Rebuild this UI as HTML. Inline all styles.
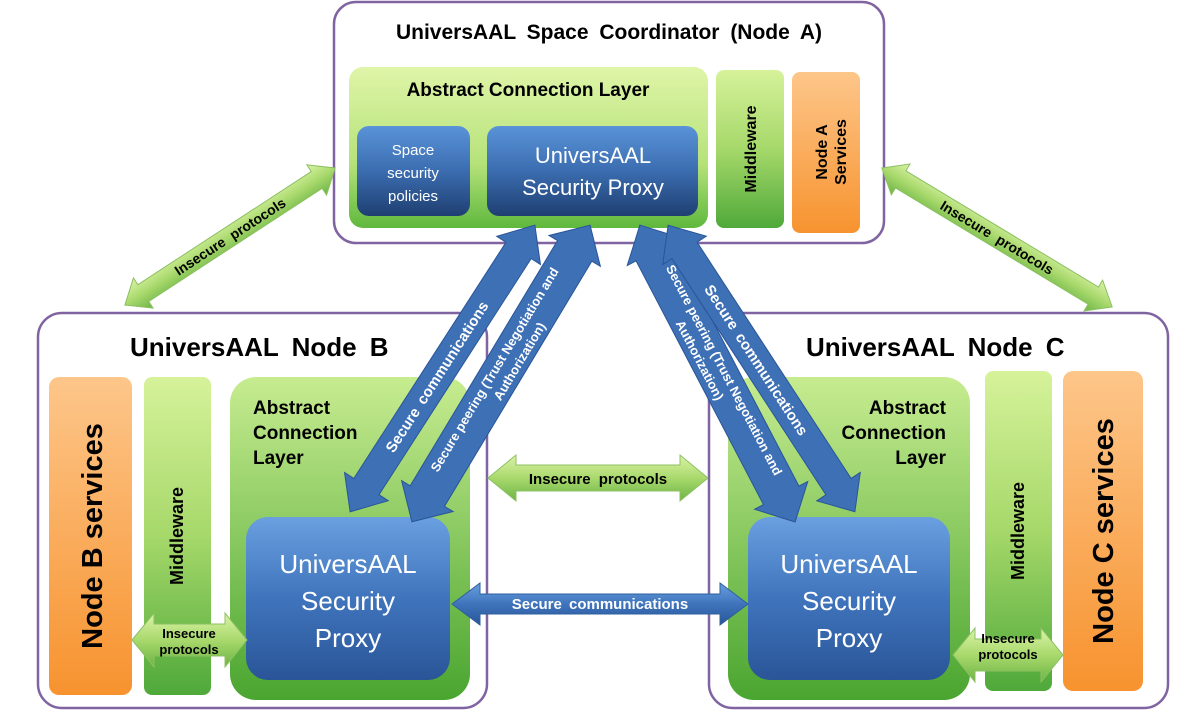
<!DOCTYPE html>
<html><head><meta charset="utf-8"><style>
html,body{margin:0;padding:0;background:#fff}
svg{display:block;font-family:"Liberation Sans",Arial,sans-serif}
.b{font-weight:bold}
</style></head><body>
<svg width="1195" height="719" viewBox="0 0 1195 719" xmlns="http://www.w3.org/2000/svg">
<defs>
<linearGradient id="gL" x1="0" y1="0" x2="0" y2="1"><stop offset="0" stop-color="#dff5a8"/><stop offset="0.6" stop-color="#b6e27a"/><stop offset="1" stop-color="#5fb83d"/></linearGradient>
<linearGradient id="gM" x1="0" y1="0" x2="0" y2="1"><stop offset="0" stop-color="#d6f29a"/><stop offset="0.5" stop-color="#a6d86a"/><stop offset="1" stop-color="#4fa93a"/></linearGradient>
<linearGradient id="gA" x1="0" y1="0" x2="0" y2="1"><stop offset="0" stop-color="#c7ec90"/><stop offset="1" stop-color="#4aa530"/></linearGradient>
<linearGradient id="gO" x1="0" y1="0" x2="0" y2="1"><stop offset="0" stop-color="#fdc68a"/><stop offset="1" stop-color="#f7932f"/></linearGradient>
<linearGradient id="gB" x1="0" y1="0" x2="0" y2="1"><stop offset="0" stop-color="#5a93d8"/><stop offset="0.5" stop-color="#3b6db0"/><stop offset="1" stop-color="#1f3f72"/></linearGradient>
<linearGradient id="gBA" x1="0" y1="0" x2="0" y2="1"><stop offset="0" stop-color="#6aa0e0"/><stop offset="0.5" stop-color="#3f74bc"/><stop offset="1" stop-color="#2a5598"/></linearGradient>
<linearGradient id="gGA" x1="0" y1="0" x2="0" y2="1"><stop offset="0" stop-color="#dbf3a6"/><stop offset="0.5" stop-color="#a9d96d"/><stop offset="1" stop-color="#6cb444"/></linearGradient>
</defs>

<!-- Frames -->
<rect x="334" y="2" width="550" height="241" rx="22" fill="#fff" stroke="#8064a2" stroke-width="2.5"/>
<rect x="38" y="313" width="449" height="395" rx="24" fill="#fff" stroke="#8064a2" stroke-width="2.5"/>
<rect x="709" y="313" width="459" height="395" rx="24" fill="#fff" stroke="#8064a2" stroke-width="2.5"/>

<!-- Node A -->
<text x="609" y="39" text-anchor="middle" class="b" font-size="21" word-spacing="5">UniversAAL Space Coordinator (Node A)</text>
<rect x="349" y="67" width="359" height="161" rx="14" fill="url(#gL)"/>
<text x="528" y="96" text-anchor="middle" class="b" font-size="19">Abstract Connection Layer</text>
<rect x="357" y="126" width="113" height="90" rx="12" fill="url(#gB)"/>
<text x="413" y="155" text-anchor="middle" fill="#fff" font-size="15">Space</text>
<text x="413" y="178" text-anchor="middle" fill="#fff" font-size="15">security</text>
<text x="413" y="201" text-anchor="middle" fill="#fff" font-size="15">policies</text>
<rect x="487" y="126" width="211" height="90" rx="12" fill="url(#gB)"/>
<text x="593" y="163" text-anchor="middle" fill="#fff" font-size="22">UniversAAL</text>
<text x="593" y="195" text-anchor="middle" fill="#fff" font-size="22">Security Proxy</text>
<rect x="716" y="70" width="68" height="158" rx="8" fill="url(#gM)"/>
<text transform="translate(751,149) rotate(-90)" text-anchor="middle" class="b" font-size="16" dy="5">Middleware</text>
<rect x="792" y="72" width="68" height="161" rx="8" fill="url(#gO)"/>
<text transform="translate(822,152) rotate(-90)" text-anchor="middle" class="b" font-size="16" dy="5">Node A</text>
<text transform="translate(841,152) rotate(-90)" text-anchor="middle" class="b" font-size="16" dy="5">Services</text>

<!-- Node B -->
<text x="130" y="356" class="b" font-size="26" word-spacing="6">UniversAAL Node B</text>
<rect x="49" y="377" width="83" height="318" rx="10" fill="url(#gO)"/>
<text transform="translate(92,536) rotate(-90)" text-anchor="middle" class="b" font-size="29" dy="10">Node B services</text>
<rect x="144" y="377" width="67" height="318" rx="8" fill="url(#gM)"/>
<text transform="translate(177,536) rotate(-90)" text-anchor="middle" class="b" font-size="18" dy="6">Middleware</text>
<rect x="230" y="377" width="240" height="323" rx="26" fill="url(#gA)"/>
<text x="253" y="414" class="b" font-size="19">Abstract</text>
<text x="253" y="439" class="b" font-size="19">Connection</text>
<text x="253" y="464" class="b" font-size="19">Layer</text>
<rect x="246" y="517" width="204" height="163" rx="22" fill="url(#gBA)"/>
<text x="348" y="573" text-anchor="middle" fill="#fff" font-size="26">UniversAAL</text>
<text x="348" y="610" text-anchor="middle" fill="#fff" font-size="26">Security</text>
<text x="348" y="647" text-anchor="middle" fill="#fff" font-size="26">Proxy</text>

<!-- Node C -->
<text x="806" y="356" class="b" font-size="26" word-spacing="6">UniversAAL Node C</text>
<rect x="728" y="377" width="242" height="323" rx="26" fill="url(#gA)"/>
<text x="946" y="414" text-anchor="end" class="b" font-size="19">Abstract</text>
<text x="946" y="439" text-anchor="end" class="b" font-size="19">Connection</text>
<text x="946" y="464" text-anchor="end" class="b" font-size="19">Layer</text>
<rect x="748" y="517" width="202" height="163" rx="22" fill="url(#gBA)"/>
<text x="849" y="573" text-anchor="middle" fill="#fff" font-size="26">UniversAAL</text>
<text x="849" y="610" text-anchor="middle" fill="#fff" font-size="26">Security</text>
<text x="849" y="647" text-anchor="middle" fill="#fff" font-size="26">Proxy</text>
<rect x="985" y="371" width="67" height="320" rx="8" fill="url(#gM)"/>
<text transform="translate(1018,531) rotate(-90)" text-anchor="middle" class="b" font-size="18" dy="6">Middleware</text>
<rect x="1063" y="371" width="80" height="320" rx="10" fill="url(#gO)"/>
<text transform="translate(1103,531) rotate(-90)" text-anchor="middle" class="b" font-size="29" dy="10">Node C services</text>

<!-- Green diagonal arrows -->
<g transform="translate(230,236.5) rotate(-33.1)">
<polygon points="-125.5,0 -103.5,-18 -103.5,-10 103.5,-10 103.5,-18 125.5,0 103.5,18 103.5,10 -103.5,10 -103.5,18" fill="url(#gGA)" stroke="#8cc063" stroke-width="1"/>
<text x="0" y="5" text-anchor="middle" class="b" font-size="14" word-spacing="4">Insecure protocols</text>
</g>
<g transform="translate(997,237.5) rotate(31.1)">
<polygon points="-134.5,0 -112.5,-18 -112.5,-10 112.5,-10 112.5,-18 134.5,0 112.5,18 112.5,10 -112.5,10 -112.5,18" fill="url(#gGA)" stroke="#8cc063" stroke-width="1"/>
<text x="0" y="5" text-anchor="middle" class="b" font-size="14" word-spacing="4">Insecure protocols</text>
</g>

<!-- Center insecure -->
<polygon points="488,478 516,455 516,465 680,465 680,455 708,478 680,501 680,491 516,491 516,501" fill="url(#gGA)" stroke="#8cc063"/>
<text x="598" y="484" text-anchor="middle" class="b" font-size="15" word-spacing="4">Insecure protocols</text>

<!-- Bottom secure -->
<polygon points="452,604 480,583 480,594 720,594 720,583 748,604 720,625 720,614 480,614 480,625" fill="url(#gBA)" stroke="#2f5f9e"/>
<text x="600" y="609" text-anchor="middle" fill="#fff" class="b" font-size="15" word-spacing="3">Secure communications</text>

<!-- Small insecure -->
<polygon points="132,640 154,613 154,624 225,624 225,613 247,640 225,667 225,656 154,656 154,667" fill="url(#gGA)" stroke="#8cc063"/>
<text x="189" y="638" text-anchor="middle" class="b" font-size="13">Insecure</text>
<text x="189" y="654" text-anchor="middle" class="b" font-size="13">protocols</text>
<polygon points="953,655 975,628 975,639 1041,639 1041,628 1063,655 1041,682 1041,671 975,671 975,682" fill="url(#gGA)" stroke="#8cc063"/>
<text x="1008" y="643" text-anchor="middle" class="b" font-size="13">Insecure</text>
<text x="1008" y="659" text-anchor="middle" class="b" font-size="13">protocols</text>

<!-- Blue diagonal arrows -->
<g transform="translate(442.5,368.5) rotate(-57.2)">
<polygon points="-170.5,0 -140.5,-26 -140.5,-15 140.5,-15 140.5,-26 170.5,0 140.5,26 140.5,15 -140.5,15 -140.5,26" fill="#3d70b5" stroke="#2a5598"/>
<text x="-10" y="5" text-anchor="middle" fill="#fff" class="b" font-size="15" word-spacing="3">Secure communications</text>
</g>
<g transform="translate(501,373.5) rotate(-59)">
<polygon points="-173,0 -143,-30 -143,-20 143,-20 143,-30 173,0 143,30 143,20 -143,20 -143,30" fill="#3d70b5" stroke="#2a5598"/>
<text x="0" y="-3" text-anchor="middle" fill="#fff" class="b" font-size="13">Secure peering (Trust Negotiation  and</text>
<text x="20" y="14" text-anchor="middle" fill="#fff" class="b" font-size="13">Authorization)</text>
</g>
<g transform="translate(717.5,373.5) rotate(62.4)">
<polygon points="-167.5,0 -137.5,-30 -137.5,-20 137.5,-20 137.5,-30 167.5,0 137.5,30 137.5,20 -137.5,20 -137.5,30" fill="#3d70b5" stroke="#2a5598"/>
<text x="0" y="-3" text-anchor="middle" fill="#fff" class="b" font-size="13">Secure peering (Trust Negotiation  and</text>
<text x="-20" y="14" text-anchor="middle" fill="#fff" class="b" font-size="13">Authorization)</text>
</g>
<g transform="translate(761.5,368.5) rotate(56.9)">
<polygon points="-171,0 -141,-26 -141,-15 141,-15 141,-26 171,0 141,26 141,15 -141,15 -141,26" fill="#3d70b5" stroke="#2a5598"/>
<text x="-10" y="5" text-anchor="middle" fill="#fff" class="b" font-size="15" word-spacing="3">Secure communications</text>
</g>
</svg>
</body></html>
